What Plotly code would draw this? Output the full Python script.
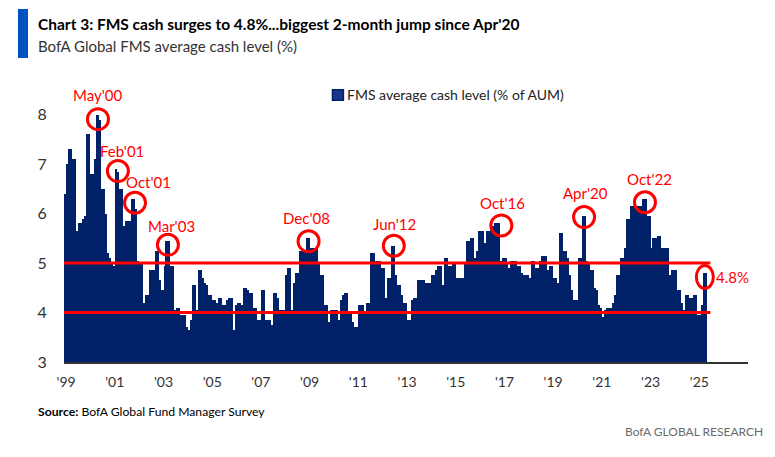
import pandas as pd
import plotly.graph_objects as go

# monthly readings, one row per year, Jan 1999 onwards
cash_level = [
    6.4, 7.0, 7.3, 7.3, 7.1, 7.1, 5.65, 5.8, 5.8, 5.9, 5.95, 7.6,
    7.6, 6.8, 6.8, 7.1, 8.0, 7.9, 6.5, 6.5, 6.0, 5.2, 5.1, 5.0,
    4.95, 6.9, 6.85, 6.5, 6.5, 5.75, 5.85, 5.85, 5.85, 6.3, 6.3, 6.1,
    5.05, 5.0, 5.0, 4.2, 4.35, 4.35, 4.85, 4.85, 4.85, 5.25, 5.25, 4.65,
    4.45, 4.95, 5.45, 5.45, 4.95, 4.95, 4.05, 4.1, 4.1, 3.95, 3.95, 3.95,
    3.7, 3.65, 3.85, 4.55, 4.55, 4.05, 4.85, 4.85, 4.7, 4.6, 4.55, 4.35,
    4.35, 4.25, 4.25, 4.2, 4.3, 4.3, 4.15, 4.15, 4.25, 4.3, 4.3, 3.65,
    4.15, 4.2, 4.2, 4.15, 4.5, 4.5, 4.45, 4.4, 4.4, 4.1, 4.1, 3.85,
    3.85, 4.45, 4.45, 3.85, 3.85, 3.85, 3.75, 4.4, 4.4, 4.3, 4.05, 4.05,
    4.05, 4.75, 4.9, 4.9, 4.05, 4.6, 4.8, 4.8, 5.25, 5.25, 5.25, 5.5,
    5.5, 5.3, 5.3, 5.3, 5.3, 5.0, 4.75, 4.75, 4.15, 4.15, 3.8, 4.05,
    4.05, 4.05, 4.05, 3.85, 4.25, 4.35, 4.4, 4.4, 4.0, 4.0, 3.8, 3.7,
    3.7, 4.15, 4.15, 4.15, 4.0, 4.2, 4.2, 5.2, 5.2, 5.05, 5.05, 5.05,
    4.9, 4.9, 4.3, 4.7, 4.7, 5.35, 5.35, 4.75, 4.55, 4.55, 4.35, 4.2,
    4.2, 3.85, 3.85, 4.25, 4.3, 4.3, 4.65, 4.65, 4.65, 4.65, 4.6, 4.6,
    4.6, 4.75, 4.75, 4.85, 4.95, 4.95, 4.55, 5.1, 5.1, 4.95, 4.95, 5.0,
    5.0, 4.7, 4.7, 4.7, 4.7, 5.0, 5.45, 5.45, 5.5, 5.5, 5.1, 5.25,
    5.65, 5.65, 5.65, 5.4, 5.65, 5.65, 5.75, 5.75, 5.8, 5.8, 5.8, 5.05,
    5.1, 5.1, 5.0, 4.9, 5.05, 5.05, 5.05, 4.95, 4.95, 4.8, 4.75, 4.75,
    4.75, 4.7, 5.05, 5.05, 4.9, 4.9, 5.05, 5.15, 5.15, 5.15, 4.85, 4.95,
    4.95, 4.7, 4.7, 4.6, 5.6, 5.6, 5.25, 5.25, 5.1, 4.75, 4.45, 4.25,
    4.25, 5.1, 5.1, 5.95, 5.95, 5.05, 5.0, 4.85, 4.85, 4.5, 4.45, 4.15,
    4.1, 3.9, 4.05, 4.1, 4.1, 4.1, 4.2, 4.35, 4.75, 4.75, 5.1, 5.1,
    5.3, 5.9, 5.9, 6.15, 6.15, 6.15, 6.15, 6.15, 6.15, 6.3, 6.3, 5.95,
    5.95, 5.3, 5.5, 5.5, 5.55, 5.55, 5.3, 5.3, 5.3, 5.3, 4.75, 4.85,
    4.85, 4.85, 4.45, 4.45, 4.2, 4.05, 4.35, 4.35, 4.3, 4.3, 4.35, 4.35,
    3.95, 3.95, 4.15, 4.8, 4.8,
]
months = pd.date_range("1999-01-01", periods=len(cash_level), freq="MS")

tick_years = list(range(1999, 2026, 2))
peak_labels = ["May'00", "Feb'01", "Oct'01", "Mar'03", "Dec'08", "Jun'12", "Oct'16", "Apr'20", "Oct'22", "4.8%"]
peak_months = ["2000-05-01", "2001-02-01", "2001-10-01", "2003-03-01", "2008-12-01",
               "2012-06-01", "2016-10-01", "2020-04-01", "2022-10-01", "2025-04-01"]
ref_levels = [4, 5]
series_name = "FMS average cash level (% of AUM)"

# pixel nudges for the circles and their labels
circle_dx = [0.5, 2, 3, 1.5, 2, 2, 4, 1.5, 1.5, 0.5]
circle_dy = [-4.5, -2, -4, -4, -3, 0, -2, -1, -3.5, -4]
label_dx = [0, 6, 16, 5, 0, 3, 5, 3, 6.5, 28]
label_dy = [20, 18, 17, 15, 20, 22, 20, 23, 20, -4]

NAVY = "#012169"
RED = "#FF0000"
FONT = "Lato"

fig = go.Figure()
fig.add_trace(go.Bar(x=months, y=cash_level, name=series_name, width=31 * 86400000,
                     marker=dict(color=NAVY, line_width=0), showlegend=False))

for level in ref_levels:
    fig.add_shape(type="line", xref="x", yref="y", x0="1998-12-16", x1="2025-07-01",
                  y0=level, y1=level, line=dict(color=RED, width=3))

lookup = dict(zip(months.strftime("%Y-%m-%d"), cash_level))
for i, name in enumerate(peak_labels):
    value = lookup[peak_months[i]]
    rx, ry = (8.5, 11.5) if name == "4.8%" else (10.5, 10.5)
    fig.add_shape(type="circle", xref="x", yref="y", xsizemode="pixel", ysizemode="pixel",
                  xanchor=peak_months[i], yanchor=value,
                  x0=circle_dx[i] - rx, x1=circle_dx[i] + rx,
                  y0=circle_dy[i] - ry, y1=circle_dy[i] + ry,
                  line=dict(color=RED, width=3))
    fig.add_annotation(x=peak_months[i], y=value, text=name, showarrow=False,
                       xshift=label_dx[i], yshift=label_dy[i],
                       font=dict(family=FONT, size=15, color=RED))


def note(x, y, text, size, color, anchor="left"):
    fig.add_annotation(xref="paper", yref="paper", x=x, y=y, xanchor=anchor, yanchor="middle",
                       showarrow=False, text=text, font=dict(family=FONT, size=size, color=color))


# header block, legend key and footer (the page sits 8px in from the window edge)
fig.add_shape(type="rect", xref="paper", yref="paper", x0=-0.0673, x1=-0.0526, y0=1.0780, y1=1.2518,
              fillcolor="#0052C2", line_width=0)
fig.add_shape(type="rect", xref="paper", yref="paper", x0=0.3925, x1=0.4085, y0=0.9285, y1=0.9650,
              fillcolor="#16388a", line=dict(color=NAVY, width=1.5))
note(-0.0405, 1.199, "<b>Chart 3: FMS cash surges to 4.8%...biggest 2-month jump since Apr'20</b>", 15.5, "#000000")
note(-0.0405, 1.121, "BofA Global FMS average cash level (%)", 15, "#333333")
note(0.4105, 0.947, series_name, 14, "#222222")
note(-0.0405, -0.177, "<b>Source:</b> BofA Global Fund Manager Survey", 12.2, "#000000")
note(1.0249, -0.245, "BofA GLOBAL RESEARCH", 12, "#6b6b6b", anchor="right")

fig.update_layout(
    width=767, height=449, margin=dict(l=56, r=27, t=72, b=95),
    paper_bgcolor="white", plot_bgcolor="white", bargap=0, showlegend=False,
    font=dict(family=FONT, color="#333333"),
)
fig.update_xaxes(type="date", range=["1998-12-16", "2027-01-16"],
                 tickvals=[f"{y}-01-16" for y in tick_years],
                 ticktext=[f"'{y % 100:02d}" for y in tick_years],
                 ticks="outside", ticklen=6, tickcolor="rgba(0,0,0,0)", showgrid=False,
                 showline=True, linecolor="#333333", linewidth=1.5,
                 tickfont=dict(size=14, color="#333333"))
fig.update_yaxes(range=[3, 8.7], tickvals=[3, 4, 5, 6, 7, 8], ticks="outside", ticklen=13,
                 tickcolor="rgba(0,0,0,0)", showgrid=False, showline=False, zeroline=False,
                 tickfont=dict(size=16, color="#333333"))

fig.write_html("out.html")
